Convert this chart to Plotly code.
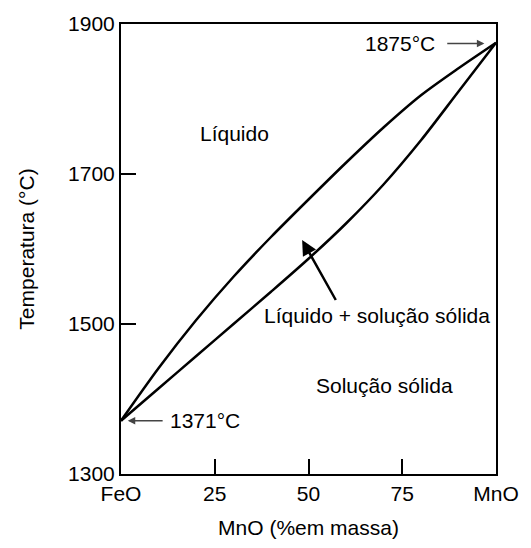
import plotly.graph_objects as go

# Data (MnO wt%, temperature °C)
mno_pct = [0, 10, 20, 30, 40, 50, 60, 70, 80, 90, 100]
liquidus = [1371, 1441, 1505, 1563, 1616, 1666, 1715, 1762, 1805, 1841, 1875]
solidus = [1371, 1414, 1457, 1500, 1543, 1587, 1634, 1686, 1745, 1810, 1875]

x_tickvals = [0, 25, 50, 75, 100]
x_ticktext = ["FeO", "25", "50", "75", "MnO"]
y_tickvals = [1300, 1500, 1700, 1900]

FONT = "Liberation Sans, Arial, sans-serif"
FS = 21

fig = go.Figure()
for temps in (liquidus, solidus):
    fig.add_trace(go.Scatter(x=mno_pct, y=temps, mode="lines",
                             line=dict(color="black", width=2.5, shape="spline",
                                       smoothing=0.8),
                             showlegend=False, hoverinfo="skip"))

annotations = [
    dict(x=30.3, y=1754, text="Líquido", showarrow=False,
         font=dict(size=FS, color="black", family=FONT)),
    dict(x=68.3, y=1512, text="Líquido + solução sólida", showarrow=False,
         font=dict(size=FS, color="black", family=FONT)),
    dict(x=70.2, y=1418, text="Solução sólida", showarrow=False,
         font=dict(size=FS, color="black", family=FONT)),
    dict(x=12.6, y=1371, text="1371°C", showarrow=False, xanchor="left",
         font=dict(size=FS, color="black", family=FONT)),
    dict(x=84.2, y=1874, text="1875°C", showarrow=False, xanchor="right",
         font=dict(size=FS, color="black", family=FONT)),
    # small arrows
    dict(x=1.8, y=1371, ax=11.5, ay=1371, xref="x", yref="y", axref="x", ayref="y",
         text="", showarrow=True, arrowhead=2, arrowsize=1, arrowwidth=1.5,
         arrowcolor="#444"),
    dict(x=96.9, y=1874, ax=86.6, ay=1874, xref="x", yref="y", axref="x", ayref="y",
         text="", showarrow=True, arrowhead=2, arrowsize=1, arrowwidth=1.5,
         arrowcolor="#444"),
    # big arrow into the two-phase region
    dict(x=48.3, y=1612, ax=57.5, ay=1530, xref="x", yref="y", axref="x", ayref="y",
         text="", showarrow=True, arrowhead=2, arrowsize=1.2, arrowwidth=2.5,
         arrowcolor="black"),
]

fig.update_layout(
    width=531, height=548,
    margin=dict(l=121, r=29, t=16, b=71),
    paper_bgcolor="white", plot_bgcolor="white",
    font=dict(family=FONT, size=FS, color="black"),
    annotations=annotations,
    xaxis=dict(range=[0, 100], tickvals=x_tickvals, ticktext=x_ticktext,
               ticks="inside", ticklen=15, tickwidth=1.5, tickcolor="black",
               showline=True, linecolor="black", linewidth=2, mirror=True,
               showgrid=False, zeroline=False,
               tickfont=dict(size=FS, family=FONT, color="black"),
               title=dict(text="MnO (%em massa)", standoff=16,
                          font=dict(size=FS, family=FONT, color="black"))),
    yaxis=dict(range=[1300, 1900], tickvals=y_tickvals,
               ticks="inside", ticklen=15, tickwidth=1.5, tickcolor="black",
               showline=True, linecolor="black", linewidth=2, mirror=True,
               showgrid=False, zeroline=False,
               tickfont=dict(size=FS, family=FONT, color="black"),
               title=dict(text="Temperatura (°C)", standoff=28,
                          font=dict(size=FS, family=FONT, color="black"))),
)

fig.write_html("out.html")
